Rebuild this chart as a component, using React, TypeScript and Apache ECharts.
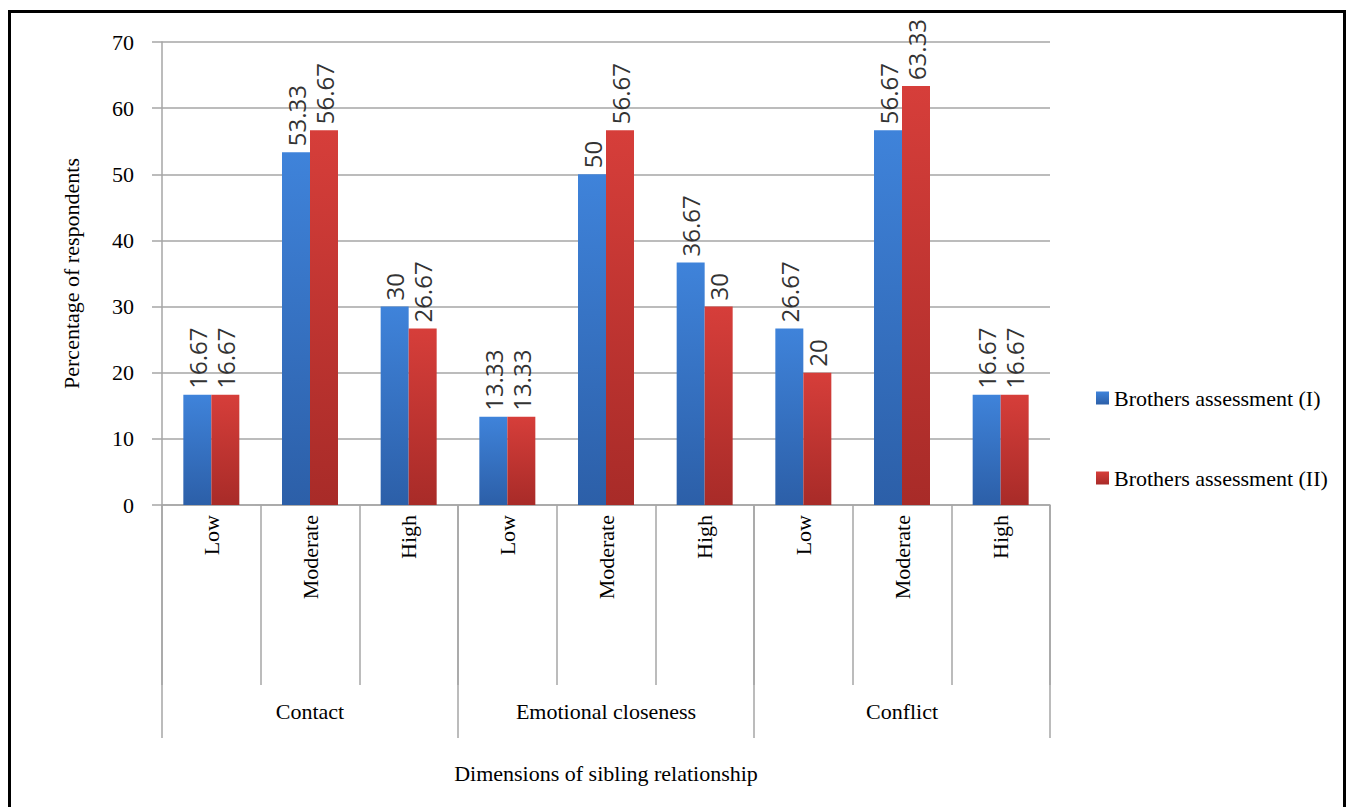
import React, { useEffect, useRef } from "react";
import * as echarts from "echarts";

const levels = ["Low", "Moderate", "High", "Low", "Moderate", "High", "Low", "Moderate", "High"];
const dimensions = ["Contact", "Emotional closeness", "Conflict"];
const seriesNames = ["Brothers assessment (I)", "Brothers assessment (II)"];
const assessmentI = [16.67, 53.33, 30, 13.33, 50, 36.67, 26.67, 56.67, 16.67];
const assessmentII = [16.67, 56.67, 26.67, 13.33, 56.67, 30, 20, 63.33, 16.67];
const yTicks = { min: 0, max: 70, interval: 10 };

const SERIF = "'Liberation Serif', 'Times New Roman', serif";
const SANS = "'Open Sans', 'Liberation Sans', sans-serif";
const GRID_GRAY = "#a6a6a6";

function grad(top: string, bottom: string) {
  return new echarts.graphic.LinearGradient(0, 0, 0, 1, [
    { offset: 0, color: top },
    { offset: 1, color: bottom },
  ]);
}

const labelStyle = {
  show: true,
  position: "top",
  rotate: 90,
  align: "left",
  verticalAlign: "middle",
  distance: 6,
  fontFamily: SANS,
  fontSize: 24,
  color: "#333333",
};

export default function App() {
  const ref = useRef<HTMLDivElement>(null);

  useEffect(() => {
    if (!ref.current) return;
    const chart = echarts.init(ref.current, null, { renderer: "svg" });
    chart.setOption({
      animation: false,
      backgroundColor: "#ffffff",
      grid: { left: 162, right: 303, top: 42, bottom: 302, containLabel: false },
      legend: {
        orient: "vertical",
        left: 1091,
        top: 382,
        itemWidth: 13,
        itemHeight: 13,
        itemGap: 58,
        icon: "rect",
        textStyle: { fontFamily: SERIF, fontSize: 22, color: "#000" },
        data: seriesNames,
      },
      xAxis: [
        {
          type: "category",
          data: levels,
          position: "bottom",
          axisLine: { show: true, lineStyle: { color: GRID_GRAY, width: 1.5 } },
          axisTick: { show: true, length: 180, interval: 0, lineStyle: { color: GRID_GRAY, width: 1.5 } },
          axisLabel: {
            interval: 0,
            rotate: 90,
            margin: 10,
            fontFamily: SERIF,
            fontSize: 22,
            color: "#000",
          },
        },
        {
          type: "category",
          data: dimensions,
          position: "bottom",
          axisLine: { show: false },
          axisTick: { show: true, length: 233, interval: 0, lineStyle: { color: GRID_GRAY, width: 1.5 } },
          axisLabel: {
            interval: 0,
            margin: 195,
            fontFamily: SERIF,
            fontSize: 22,
            color: "#000",
          },
          name: "Dimensions of sibling relationship",
          nameLocation: "middle",
          nameGap: 257,
          nameTextStyle: { fontFamily: SERIF, fontSize: 22, color: "#000" },
        },
      ],
      yAxis: {
        type: "value",
        min: yTicks.min,
        max: yTicks.max,
        interval: yTicks.interval,
        name: "Percentage of respondents",
        nameLocation: "middle",
        nameGap: 80,
        nameTextStyle: { fontFamily: SERIF, fontSize: 22, color: "#000" },
        axisLine: { show: true, lineStyle: { color: GRID_GRAY, width: 1.5 } },
        axisTick: { show: true, length: 10, lineStyle: { color: GRID_GRAY, width: 1.5 } },
        axisLabel: { margin: 28, fontFamily: SERIF, fontSize: 22, color: "#000" },
        splitLine: { show: true, lineStyle: { color: GRID_GRAY, width: 1.5 } },
      },
      series: [
        {
          name: seriesNames[0],
          type: "bar",
          xAxisIndex: 0,
          data: assessmentI,
          barWidth: 28,
          barGap: "0%",
          itemStyle: { color: grad("#3f83da", "#2c5fa8") },
          label: labelStyle,
        },
        {
          name: seriesNames[1],
          type: "bar",
          xAxisIndex: 0,
          data: assessmentII,
          barWidth: 28,
          barGap: "0%",
          itemStyle: { color: grad("#d63e3a", "#a82b28") },
          label: labelStyle,
        },
      ],
      graphic: [
        {
          type: "rect",
          shape: { x: 9.5, y: 11.5, width: 1335, height: 820 },
          style: { fill: "none", stroke: "#000", lineWidth: 3 },
          silent: true,
          z: 100,
        },
      ],
    });
    return () => chart.dispose();
  }, []);

  return (
    <div
      ref={ref}
      style={{ position: "absolute", left: 0, top: 0, width: 1353, height: 807, overflow: "hidden" }}
    />
  );
}
